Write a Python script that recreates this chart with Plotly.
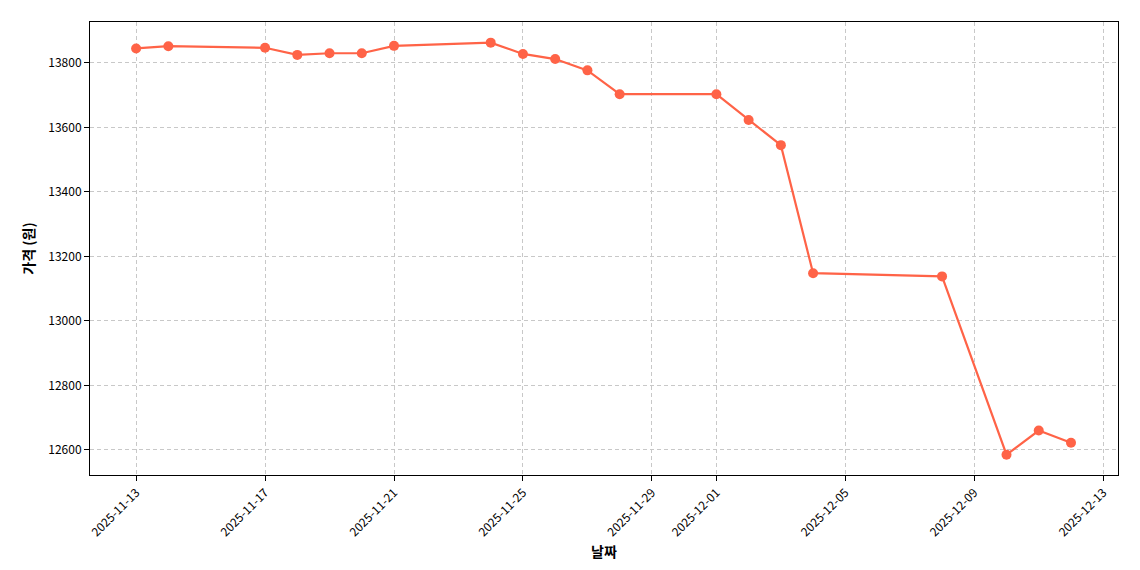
import plotly.graph_objects as go

dates = ['2025-11-13', '2025-11-14', '2025-11-17', '2025-11-18', '2025-11-19', '2025-11-20',
         '2025-11-21', '2025-11-24', '2025-11-25', '2025-11-26', '2025-11-27', '2025-11-28',
         '2025-12-01', '2025-12-02', '2025-12-03', '2025-12-04', '2025-12-08', '2025-12-10',
         '2025-12-11', '2025-12-12']
prices = [13845, 13852, 13847, 13825, 13830, 13830, 13853, 13863, 13828, 13812, 13777, 13703,
          13703, 13623, 13545, 13148, 13138, 12585, 12660, 12622]
tick_dates = ['2025-11-13', '2025-11-17', '2025-11-21', '2025-11-25', '2025-11-29',
              '2025-12-01', '2025-12-05', '2025-12-09', '2025-12-13']

fig = go.Figure(go.Scatter(
    x=dates, y=prices, mode='lines+markers',
    line=dict(color='#FF6347', width=2.2),
    marker=dict(color='#FF6347', size=10),
))

grid = dict(showgrid=True, gridcolor='#c8c8c8', griddash='4px,3px', gridwidth=1,
            showline=True, linecolor='black', mirror=True, ticks='outside',
            tickcolor='black', zeroline=False, automargin=False)

fig.update_xaxes(**grid, tickvals=tick_dates, ticktext=tick_dates, tickangle=-45,
                 range=['2025-11-11 13:40', '2025-12-13 11:00'],
                 title=dict(text='<b>날짜</b>', font=dict(size=14), standoff=8))
fig.update_yaxes(**grid, range=[12522, 13927], dtick=200, tickformat='d',
                 title=dict(text='<b>가격 (원)</b>', font=dict(size=14), standoff=10))

fig.update_layout(
    width=1140, height=570,
    margin=dict(l=82, r=30, t=14, b=103),
    plot_bgcolor='white', paper_bgcolor='white',
    font=dict(family='Noto Sans CJK KR', size=12, color='black'),
    showlegend=False,
)

fig.write_html("out.html")
